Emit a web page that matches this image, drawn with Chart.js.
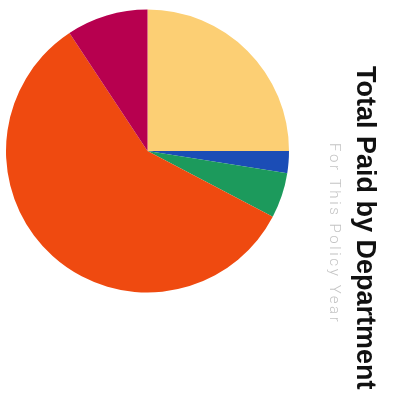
<!DOCTYPE html>
<html>
<head>
<meta charset="utf-8">
<script src="https://cdn.jsdelivr.net/npm/chart.js@4/dist/chart.umd.min.js"></script>
<style>
  html, body { margin: 0; padding: 0; background: #ffffff; }
  #wrap { width: 393px; height: 403px; position: relative; }
</style>
</head>
<body>
<div id="wrap"><canvas id="c"></canvas></div>
<script>
const categories = ["Department A", "Department B", "Department C", "Department D", "Department E"];
const values = [25.0, 2.5, 5.2, 58.0, 9.3];
const colors = ["#FCCF74", "#1B4DB6", "#1C9A5C", "#EF4A10", "#B7004F"];
const titleText = "Total Paid by Department";
const subtitleText = "For This Policy Year";

const sideTitles = {
  id: 'sideTitles',
  afterDraw(chart) {
    const ctx = chart.ctx;
    ctx.save();
    ctx.fillStyle = '#111111';
    ctx.font = 'bold 27px "Liberation Sans", Arial, sans-serif';
    ctx.textAlign = 'left';
    ctx.textBaseline = 'alphabetic';
    ctx.translate(357, 66);
    ctx.rotate(Math.PI / 2);
    ctx.fillText(titleText, 0, 0);
    ctx.restore();

    ctx.save();
    ctx.fillStyle = '#C4C4C4';
    ctx.font = '300 15px Roboto, "Liberation Sans", sans-serif';
    ctx.letterSpacing = '2.6px';
    ctx.textAlign = 'left';
    ctx.textBaseline = 'alphabetic';
    ctx.translate(330, 143);
    ctx.rotate(Math.PI / 2);
    ctx.fillText(subtitleText, 0, 0);
    ctx.restore();
  }
};

new Chart(document.getElementById('c'), {
  type: 'pie',
  data: {
    labels: categories,
    datasets: [{
      data: values,
      backgroundColor: colors,
      borderWidth: 0
    }]
  },
  options: {
    responsive: true,
    maintainAspectRatio: false,
    animation: false,
    layout: { padding: { left: 6, top: 9, right: 104, bottom: 110 } },
    plugins: {
      legend: { display: false },
      tooltip: { enabled: false },
      title: { display: false }
    }
  },
  plugins: [sideTitles]
});
</script>
</body>
</html>
